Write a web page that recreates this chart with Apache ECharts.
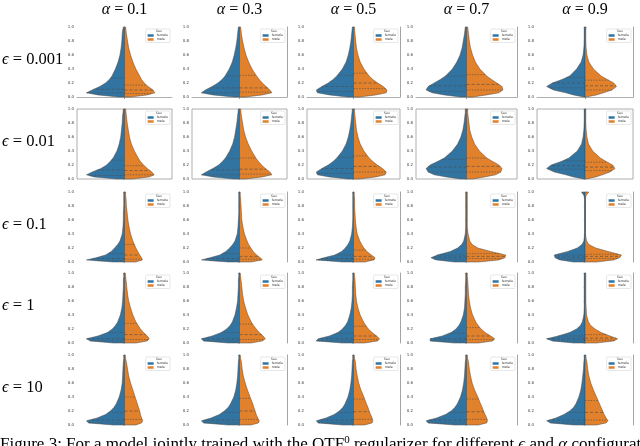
<!DOCTYPE html>
<html><head><meta charset="utf-8">
<script src="https://cdn.jsdelivr.net/npm/echarts@6.0.0/dist/echarts.min.js"></script>
<style>html,body{margin:0;padding:0;background:#fff}#c{width:640px;height:446px}</style>
</head><body><div id="c"></div>
<script>
// ---------- data ----------
const alphaLabels = ['0.1', '0.3', '0.5', '0.7', '0.9'];
const epsLabels = ['0.001', '0.01', '0.1', '1', '10'];
const sexLabels = ['female', 'male'];
const yTicks = [0, 0.2, 0.4, 0.6, 0.8, 1.0];
// heights (y values) at which the violin half-widths are read
const levels = [0, 0.03, 0.06, 0.1, 0.15, 0.2, 0.25, 0.3, 0.4, 0.5, 0.6, 0.7, 0.8, 0.9, 0.95, 1.0];

// relative half-widths (density) per alpha column, one array per epsilon row
const femaleEps0001 = [
  [0.15, 0.7, 1.0, 0.85, 0.65, 0.5, 0.4, 0.33, 0.24, 0.17, 0.12, 0.09, 0.07, 0.06, 0.05, 0.03],
  [0.15, 0.7, 1.0, 0.9, 0.72, 0.57, 0.46, 0.38, 0.27, 0.19, 0.14, 0.1, 0.07, 0.05, 0.04, 0.03],
  [0.15, 0.65, 0.97, 1.0, 0.85, 0.68, 0.55, 0.45, 0.3, 0.2, 0.14, 0.1, 0.07, 0.05, 0.04, 0.03],
  [0.15, 0.55, 0.85, 1.0, 0.95, 0.8, 0.65, 0.52, 0.35, 0.24, 0.16, 0.11, 0.08, 0.05, 0.04, 0.03],
  [0.03, 0.3, 0.5, 0.82, 1.0, 0.85, 0.6, 0.4, 0.22, 0.1, 0.05, 0.03, 0.02, 0.02, 0.02, 0.02]
];
const maleEps0001 = [
  [0.15, 0.6, 0.8, 0.75, 0.62, 0.52, 0.45, 0.4, 0.3, 0.22, 0.16, 0.11, 0.08, 0.05, 0.04, 0.03],
  [0.15, 0.6, 0.85, 0.8, 0.7, 0.6, 0.52, 0.45, 0.33, 0.24, 0.17, 0.12, 0.08, 0.05, 0.04, 0.03],
  [0.15, 0.6, 0.88, 0.9, 0.8, 0.65, 0.52, 0.42, 0.28, 0.18, 0.12, 0.08, 0.06, 0.04, 0.03, 0.03],
  [0.15, 0.5, 0.8, 0.9, 0.88, 0.75, 0.62, 0.5, 0.33, 0.22, 0.15, 0.1, 0.07, 0.05, 0.04, 0.03],
  [0.03, 0.3, 0.48, 0.7, 0.82, 0.75, 0.58, 0.42, 0.22, 0.1, 0.05, 0.03, 0.02, 0.02, 0.02, 0.03]
];
const femaleEps001 = [
  [0.2, 0.8, 1.0, 0.85, 0.62, 0.47, 0.38, 0.3, 0.2, 0.14, 0.1, 0.08, 0.06, 0.05, 0.04, 0.03],
  [0.15, 0.7, 1.0, 0.88, 0.7, 0.55, 0.45, 0.37, 0.26, 0.18, 0.13, 0.1, 0.07, 0.05, 0.04, 0.03],
  [0.15, 0.65, 0.97, 1.0, 0.85, 0.68, 0.55, 0.45, 0.3, 0.2, 0.14, 0.1, 0.07, 0.05, 0.04, 0.03],
  [0.15, 0.5, 0.8, 0.95, 1.0, 0.9, 0.72, 0.55, 0.35, 0.22, 0.14, 0.09, 0.06, 0.04, 0.03, 0.03],
  [0.03, 0.3, 0.5, 0.8, 1.0, 0.88, 0.62, 0.42, 0.2, 0.09, 0.05, 0.03, 0.02, 0.02, 0.02, 0.02]
];
const maleEps001 = [
  [0.2, 0.65, 0.78, 0.72, 0.6, 0.5, 0.42, 0.36, 0.26, 0.18, 0.13, 0.1, 0.07, 0.05, 0.04, 0.03],
  [0.15, 0.6, 0.85, 0.8, 0.68, 0.58, 0.5, 0.43, 0.32, 0.23, 0.16, 0.11, 0.08, 0.05, 0.04, 0.03],
  [0.15, 0.6, 0.85, 0.88, 0.78, 0.64, 0.52, 0.42, 0.28, 0.18, 0.12, 0.08, 0.06, 0.04, 0.03, 0.03],
  [0.15, 0.45, 0.72, 0.85, 0.88, 0.8, 0.65, 0.5, 0.32, 0.2, 0.13, 0.08, 0.06, 0.04, 0.03, 0.03],
  [0.03, 0.28, 0.45, 0.65, 0.78, 0.72, 0.55, 0.4, 0.2, 0.09, 0.05, 0.03, 0.02, 0.02, 0.02, 0.02]
];
const femaleEps01 = [
  [0.3, 1.0, 0.75, 0.5, 0.35, 0.26, 0.18, 0.12, 0.06, 0.04, 0.03, 0.03, 0.02, 0.02, 0.02, 0.02],
  [0.3, 1.0, 0.78, 0.52, 0.36, 0.26, 0.18, 0.12, 0.06, 0.04, 0.03, 0.02, 0.02, 0.02, 0.02, 0.02],
  [0.3, 1.0, 0.8, 0.5, 0.32, 0.22, 0.15, 0.1, 0.05, 0.03, 0.02, 0.02, 0.02, 0.02, 0.02, 0.02],
  [0.3, 0.75, 0.88, 0.72, 0.4, 0.22, 0.12, 0.07, 0.03, 0.02, 0.02, 0.02, 0.02, 0.02, 0.02, 0.02],
  [0.3, 0.65, 0.78, 0.8, 0.45, 0.2, 0.08, 0.03, 0.01, 0.01, 0.01, 0.01, 0.01, 0.01, 0.03, 0.09]
];
const maleEps01 = [
  [0.3, 0.47, 0.45, 0.4, 0.35, 0.3, 0.26, 0.22, 0.16, 0.12, 0.09, 0.07, 0.05, 0.04, 0.03, 0.03],
  [0.3, 0.6, 0.55, 0.45, 0.36, 0.3, 0.24, 0.2, 0.13, 0.09, 0.06, 0.05, 0.04, 0.03, 0.02, 0.02],
  [0.3, 0.55, 0.58, 0.48, 0.36, 0.28, 0.22, 0.17, 0.1, 0.07, 0.05, 0.04, 0.03, 0.03, 0.02, 0.02],
  [0.3, 0.8, 0.95, 0.97, 0.6, 0.28, 0.14, 0.08, 0.04, 0.02, 0.02, 0.02, 0.02, 0.02, 0.02, 0.02],
  [0.3, 0.75, 0.9, 0.95, 0.6, 0.28, 0.1, 0.04, 0.01, 0.01, 0.01, 0.01, 0.01, 0.01, 0.03, 0.1]
];
const femaleEps1 = [
  [0.3, 0.9, 1.0, 0.7, 0.45, 0.32, 0.24, 0.18, 0.11, 0.07, 0.05, 0.04, 0.03, 0.03, 0.02, 0.02],
  [0.3, 0.95, 1.0, 0.72, 0.48, 0.34, 0.25, 0.19, 0.12, 0.08, 0.05, 0.04, 0.03, 0.03, 0.02, 0.02],
  [0.3, 1.0, 0.95, 0.65, 0.42, 0.3, 0.22, 0.16, 0.1, 0.06, 0.04, 0.03, 0.03, 0.02, 0.02, 0.02],
  [0.3, 0.9, 0.9, 0.6, 0.38, 0.26, 0.19, 0.14, 0.08, 0.05, 0.04, 0.03, 0.03, 0.02, 0.02, 0.02],
  [0.3, 0.85, 1.0, 0.7, 0.4, 0.22, 0.12, 0.07, 0.03, 0.02, 0.02, 0.02, 0.02, 0.02, 0.02, 0.02]
];
const maleEps1 = [
  [0.3, 0.6, 0.65, 0.6, 0.5, 0.42, 0.36, 0.3, 0.22, 0.16, 0.11, 0.08, 0.06, 0.04, 0.03, 0.02],
  [0.3, 0.6, 0.68, 0.62, 0.52, 0.44, 0.37, 0.31, 0.22, 0.16, 0.11, 0.08, 0.06, 0.04, 0.03, 0.02],
  [0.3, 0.65, 0.7, 0.62, 0.5, 0.4, 0.33, 0.27, 0.18, 0.12, 0.08, 0.06, 0.05, 0.04, 0.03, 0.02],
  [0.3, 0.65, 0.7, 0.6, 0.46, 0.36, 0.29, 0.23, 0.15, 0.1, 0.07, 0.05, 0.04, 0.03, 0.02, 0.02],
  [0.3, 0.75, 0.85, 0.65, 0.42, 0.26, 0.15, 0.09, 0.04, 0.03, 0.02, 0.02, 0.02, 0.02, 0.02, 0.02]
];
const femaleEps10 = [
  [0.3, 0.95, 1.0, 0.72, 0.5, 0.37, 0.28, 0.22, 0.14, 0.09, 0.06, 0.05, 0.04, 0.03, 0.02, 0.02],
  [0.3, 0.95, 1.0, 0.75, 0.53, 0.4, 0.3, 0.24, 0.15, 0.1, 0.07, 0.05, 0.04, 0.03, 0.02, 0.02],
  [0.3, 0.95, 1.0, 0.74, 0.52, 0.38, 0.29, 0.23, 0.15, 0.1, 0.07, 0.05, 0.04, 0.03, 0.02, 0.02],
  [0.3, 0.95, 1.0, 0.74, 0.52, 0.38, 0.29, 0.23, 0.15, 0.1, 0.07, 0.05, 0.04, 0.03, 0.02, 0.02],
  [0.3, 0.9, 1.0, 0.76, 0.55, 0.4, 0.3, 0.24, 0.16, 0.11, 0.08, 0.06, 0.04, 0.03, 0.02, 0.02]
];
const maleEps10 = [
  [0.3, 0.45, 0.48, 0.45, 0.42, 0.4, 0.37, 0.34, 0.28, 0.22, 0.16, 0.11, 0.08, 0.05, 0.03, 0.02],
  [0.3, 0.5, 0.52, 0.48, 0.44, 0.41, 0.38, 0.35, 0.28, 0.21, 0.15, 0.1, 0.07, 0.05, 0.03, 0.02],
  [0.3, 0.5, 0.52, 0.5, 0.46, 0.42, 0.39, 0.35, 0.28, 0.2, 0.14, 0.1, 0.07, 0.05, 0.03, 0.02],
  [0.3, 0.5, 0.52, 0.5, 0.46, 0.42, 0.39, 0.35, 0.28, 0.2, 0.14, 0.1, 0.07, 0.05, 0.03, 0.02],
  [0.3, 0.55, 0.6, 0.55, 0.5, 0.46, 0.42, 0.38, 0.3, 0.22, 0.15, 0.1, 0.07, 0.05, 0.03, 0.02]
];

// quartiles [q1, median, q3] per alpha column
const femaleQuartEps0001 = [[0.06, 0.11, 0.27], [0.06, 0.13, 0.3], [0.08, 0.15, 0.31], [0.08, 0.16, 0.3], [0.13, 0.2, 0.28]];
const maleQuartEps0001   = [[0.05, 0.1, 0.17], [0.07, 0.13, 0.31], [0.12, 0.2, 0.34], [0.1, 0.18, 0.32], [0.1, 0.16, 0.24]];
const femaleQuartEps001  = [[0.05, 0.13, 0.27], [0.06, 0.13, 0.29], [0.08, 0.15, 0.31], [0.1, 0.17, 0.28], [0.14, 0.19, 0.26]];
const maleQuartEps001    = [[0.06, 0.12, 0.19], [0.07, 0.14, 0.3], [0.1, 0.18, 0.33], [0.1, 0.18, 0.3], [0.12, 0.17, 0.24]];
const femaleQuartEps01   = [[0.02, 0.05, 0.12], [0.02, 0.05, 0.12], [0.03, 0.05, 0.1], [0.04, 0.07, 0.1], [0.04, 0.07, 0.1]];
const maleQuartEps01     = [[0.04, 0.1, 0.25], [0.04, 0.08, 0.2], [0.04, 0.08, 0.17], [0.05, 0.08, 0.12], [0.05, 0.08, 0.11]];
const femaleQuartEps1    = [[0.03, 0.06, 0.15], [0.03, 0.06, 0.15], [0.03, 0.06, 0.14], [0.03, 0.06, 0.14], [0.03, 0.06, 0.1]];
const maleQuartEps1      = [[0.05, 0.12, 0.28], [0.05, 0.12, 0.27], [0.05, 0.1, 0.24], [0.05, 0.1, 0.22], [0.04, 0.07, 0.12]];
const femaleQuartEps10   = [[0.03, 0.07, 0.18], [0.03, 0.07, 0.18], [0.03, 0.07, 0.18], [0.03, 0.07, 0.18], [0.03, 0.07, 0.18]];
const maleQuartEps10     = [[0.08, 0.2, 0.4], [0.08, 0.2, 0.38], [0.08, 0.19, 0.37], [0.08, 0.19, 0.37], [0.07, 0.18, 0.35]];

const femaleRows = [femaleEps0001, femaleEps001, femaleEps01, femaleEps1, femaleEps10];
const maleRows = [maleEps0001, maleEps001, maleEps01, maleEps1, maleEps10];
const femaleQuartRows = [femaleQuartEps0001, femaleQuartEps001, femaleQuartEps01, femaleQuartEps1, femaleQuartEps10];
const maleQuartRows = [maleQuartEps0001, maleQuartEps001, maleQuartEps01, maleQuartEps1, maleQuartEps10];

// ---------- layout / style ----------
const colLeft = [77, 192, 307, 416, 537];
const colWidth = [95, 95, 93, 101, 96];
const rowTop = [27, 109, 192, 273, 355];
const rowHeight = 70;
const FEMALE = '#3274a1', MALE = '#e1812c', EDGE = '#4a4a4a', SPINE = '#9a9a9a';
const SERIF = "'Liberation Serif', 'DejaVu Serif', serif";
const SANS = "'DejaVu Sans', sans-serif";

function widthAt(w, q) {
  for (let i = 1; i < levels.length; i++) {
    if (q <= levels[i]) {
      const t = (q - levels[i - 1]) / (levels[i] - levels[i - 1]);
      return w[i - 1] + t * (w[i] - w[i - 1]);
    }
  }
  return w[w.length - 1];
}

function makeRender(widths, quarts, side, color) {
  return function (params, api) {
    if (params.dataIndex !== 0) return null;
    const n = levels.length;
    const pts = [api.coord([0, levels[n - 1]])];
    for (let i = n - 1; i >= 0; i--) pts.push(api.coord([side * widths[i], levels[i]]));
    pts.push(api.coord([0, levels[0]]));
    const children = [{
      type: 'polygon', shape: { points: pts },
      style: { fill: color, stroke: EDGE, lineWidth: 0.5 }
    }];
    quarts.forEach(function (q, k) {
      const a = api.coord([0, q]);
      const b = api.coord([side * widthAt(widths, q), q]);
      children.push({
        type: 'line', shape: { x1: a[0], y1: a[1], x2: b[0], y2: b[1] },
        style: { stroke: EDGE, lineWidth: 0.6, lineDash: k === 1 ? [3, 2] : [1.4, 1.4] }
      });
    });
    return { type: 'group', children: children };
  };
}

const grids = [], xAxes = [], yAxes = [], series = [], legends = [], titles = [];

for (let r = 0; r < 5; r++) {
  for (let c = 0; c < 5; c++) {
    const gi = r * 5 + c;
    const gLeft = colLeft[c], gTop = rowTop[r], gW = colWidth[c];
    const gRight = gLeft + gW;
    grids.push({
      left: gLeft, top: gTop, width: gW, height: rowHeight,
      show: r === 1, borderColor: SPINE, borderWidth: 0.8, backgroundColor: 'transparent'
    });
    xAxes.push({
      gridIndex: gi, type: 'value', min: -1.25, max: 1.25,
      offset: r === 0 ? 11 : 0,
      axisLine: { show: r === 0, lineStyle: { color: SPINE, width: 0.8 } },
      axisTick: { show: r === 0, customValues: [0], length: 2, lineStyle: { color: SPINE } },
      axisLabel: { show: false }, splitLine: { show: false }
    });
    yAxes.push({
      gridIndex: gi, type: 'value', position: 'left',
      min: yTicks[0], max: yTicks[yTicks.length - 1], interval: 0.2,
      axisLine: { show: true, lineStyle: { color: SPINE, width: 0.9 } },
      axisTick: { show: true, length: 1.5, lineStyle: { color: SPINE, width: 0.5 } },
      axisLabel: { fontSize: 4, color: '#444', margin: 3, fontFamily: SANS, formatter: function (v) { return v.toFixed(1); } },
      splitLine: { show: false }
    });
    yAxes.push({
      gridIndex: gi, type: 'value', position: 'right',
      min: yTicks[0], max: yTicks[yTicks.length - 1],
      axisLine: { show: c > 0 && r !== 1, lineStyle: { color: SPINE, width: 0.9 } },
      axisTick: { show: false }, axisLabel: { show: false }, splitLine: { show: false }
    });
    const fw = femaleRows[r][c], mw = maleRows[r][c];
    series.push({
      type: 'custom', name: sexLabels[0], xAxisIndex: gi, yAxisIndex: 2 * gi,
      data: levels.map(function (l, i) { return [-fw[i], l]; }),
      renderItem: makeRender(fw, femaleQuartRows[r][c], -1, FEMALE),
      itemStyle: { color: FEMALE }, clip: false, silent: true
    });
    series.push({
      type: 'custom', name: sexLabels[1], xAxisIndex: gi, yAxisIndex: 2 * gi,
      data: levels.map(function (l, i) { return [mw[i], l]; }),
      renderItem: makeRender(mw, maleQuartRows[r][c], 1, MALE),
      itemStyle: { color: MALE }, clip: false, silent: true
    });
    legends.push({
      data: sexLabels, orient: 'vertical', right: 640 - gRight + 2, top: gTop + 2,
      icon: 'rect', itemWidth: 6, itemHeight: 2.5, itemGap: 1,
      padding: [5, 2, 1.5, 2], borderColor: '#cfcfcf', borderWidth: 0.5, borderRadius: 1,
      backgroundColor: '#fff', selectedMode: false,
      textStyle: { fontSize: 3.3, color: '#333', fontFamily: SANS, padding: [0, 0, 0, -2] }
    });
    titles.push({
      text: 'Sex', left: gRight - 13, top: gTop + 2.8,
      textAlign: 'center', padding: 0,
      textStyle: { fontSize: 3.2, color: '#333', fontFamily: SANS, fontWeight: 'normal' }
    });
  }
}

for (let c = 0; c < 5; c++) {
  titles.push({
    text: '{i|α} = ' + alphaLabels[c], left: colLeft[c] + colWidth[c] / 2, top: 2,
    textAlign: 'center', padding: 0,
    textStyle: { fontSize: 16, color: '#000', fontFamily: SERIF, fontWeight: 'normal',
      rich: { i: { fontStyle: 'italic', fontSize: 16, fontFamily: SERIF, color: '#000' } } }
  });
}
for (let r = 0; r < 5; r++) {
  titles.push({
    text: '{i|ϵ} = ' + epsLabels[r], left: 2, top: rowTop[r] + rowHeight / 2 - 2,
    textVerticalAlign: 'middle', padding: 0,
    textStyle: { fontSize: 16.5, color: '#000', fontFamily: SERIF, fontWeight: 'normal',
      rich: { i: { fontStyle: 'italic', fontSize: 16.5, fontFamily: SERIF, color: '#000' } } }
  });
}
titles.push({
  text: 'Figure 3: For a model jointly trained with the OTF{s|0} regularizer for different {i|ϵ} and {i|α} configurations',
  left: 0, top: 435, padding: 0,
  textStyle: { fontSize: 17, color: '#000', fontFamily: SERIF, fontWeight: 'normal',
    rich: { s: { fontSize: 11, fontFamily: SERIF, color: '#000', padding: [0, 0, 8, 0] },
            i: { fontStyle: 'italic', fontSize: 17, fontFamily: SERIF, color: '#000' } } }
});

const chart = echarts.init(document.getElementById('c'), null, { renderer: 'canvas', width: 640, height: 446 });
chart.setOption({
  animation: false,
  backgroundColor: '#fff',
  title: titles,
  legend: legends,
  grid: grids,
  xAxis: xAxes,
  yAxis: yAxes,
  series: series
});
</script>
</body></html>
